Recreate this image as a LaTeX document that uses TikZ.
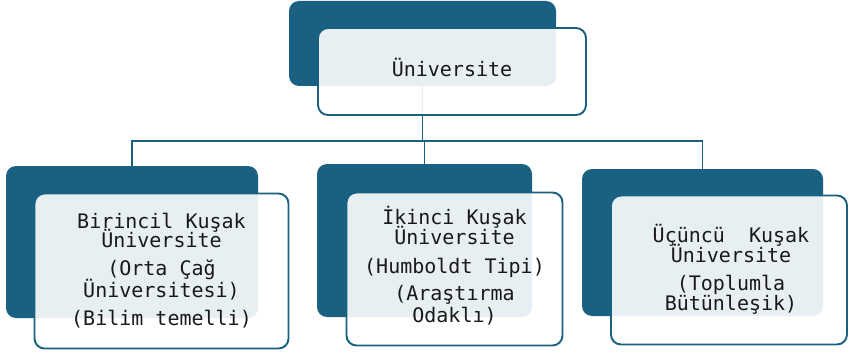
\documentclass[tikz,border=0pt]{standalone}
\usepackage{fontspec}
\newfontfamily\boxfont{DejaVu Sans Mono}
\definecolor{dk}{RGB}{26,96,128}
\begin{document}
\begin{tikzpicture}[x=1pt,y=-1pt,
  darkbox/.style={fill=dk,draw=none,rounded corners=10pt,inner sep=0pt,outer sep=0pt},
  frontbox/.style={fill=white,fill opacity=0.9,draw=dk,line width=1.9pt,rounded corners=10pt,inner sep=0pt,outer sep=0pt},
  lbl/.style={anchor=base,inner sep=0pt,font=\boxfont\fontsize{20}{20}\selectfont,text=black!90},
  conn/.style={draw=dk,line width=1.9pt}]
\useasboundingbox (0,0) rectangle (849,353);
% dark back boxes
\node[darkbox,minimum width=267pt,minimum height=85pt] (tdark) at (422.5,43.5) {};
\node[darkbox,minimum width=252pt,minimum height=152pt] (ldark) at (132,242) {};
\node[darkbox,minimum width=215pt,minimum height=153pt] (mdark) at (424.5,240.5) {};
\node[darkbox,minimum width=241pt,minimum height=147pt] (rdark) at (702.5,242.5) {};
% connectors
\coordinate (junc) at (422.5,141);
\draw[conn] (tdark.south) -- (junc);
\draw[conn] (ldark.north) |- (junc);
\draw[conn] (rdark.north) |- (junc);
\draw[conn] (junc) -| (mdark.north);
% front boxes
\node[frontbox,minimum width=268pt,minimum height=87pt] (tfront) at (452,71.5) {};
\node[frontbox,minimum width=254pt,minimum height=155pt] (lfront) at (161.5,271) {};
\node[frontbox,minimum width=216pt,minimum height=153pt] (mfront) at (454.5,269) {};
\node[frontbox,minimum width=236pt,minimum height=149pt] (rfront) at (729,270) {};
% texts
\node[lbl] (t1) at (452,77) {Üniversite};
\node[lbl] (l1) at (161.5,228) {Birincil Kuşak};
\node[lbl] (l2) at (161.5,247) {Üniversite};
\node[lbl] (l3) at (161.5,275) {(Orta Çağ};
\node[lbl] (l4) at (161.5,297) {Üniversitesi)};
\node[lbl] (l5) at (161.5,325) {(Bilim temelli)};
\node[lbl] (m1) at (454.5,224) {İkinci Kuşak};
\node[lbl] (m2) at (454.5,244) {Üniversite};
\node[lbl] (m3) at (454.5,273) {(Humboldt Tipi)};
\node[lbl] (m4) at (454.5,300) {(Araştırma};
\node[lbl] (m5) at (454.5,322) {Odaklı)};
\node[lbl] (r1) at (731,242) {Üçüncü~~Kuşak};
\node[lbl] (r2) at (731,262) {Üniversite};
\node[lbl] (r3) at (731,290) {(Toplumla};
\node[lbl] (r4) at (731,310) {Bütünleşik)};
\end{tikzpicture}
\end{document}
